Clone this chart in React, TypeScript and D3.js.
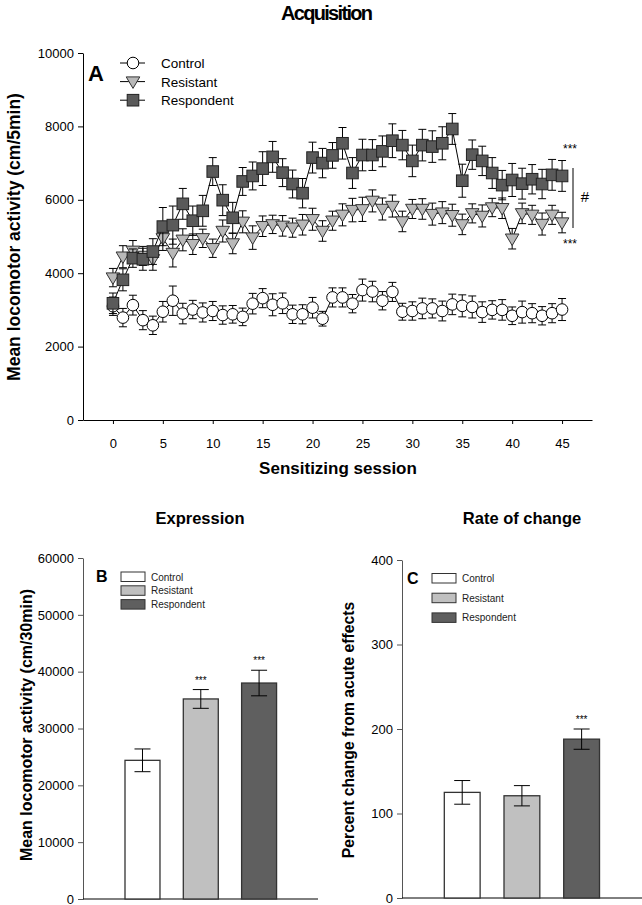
import React, { useRef, useEffect } from 'react';
import * as d3 from 'd3';

// Acquisition: sessions 0..45
const sessions = d3.range(0, 46);
const controlMean = [3100, 2790, 3130, 2720, 2580, 2950, 3250, 2900, 3010, 2930, 2970, 2860, 2880, 2810, 3170, 3320, 3140, 3180, 2880, 2880, 3060, 2760, 3340, 3340, 3170, 3540, 3500, 3250, 3490, 2950, 2970, 3040, 3040, 2970, 3150, 3110, 3080, 2940, 3000, 3000, 2840, 2940, 2910, 2840, 2910, 3010];
const controlErr = [250, 250, 270, 260, 250, 280, 400, 280, 250, 260, 260, 250, 240, 240, 280, 260, 300, 280, 250, 260, 280, 200, 260, 260, 250, 300, 280, 250, 260, 230, 250, 280, 260, 270, 280, 300, 300, 280, 250, 280, 240, 300, 260, 250, 260, 300];
const resistantMean = [3880, 4450, 4610, 4470, 4380, 4950, 4550, 4910, 4790, 4950, 4680, 5150, 4810, 5400, 4970, 5280, 5330, 5290, 5240, 5320, 5470, 5150, 5430, 5590, 5720, 5740, 5970, 5750, 5830, 5410, 5750, 5750, 5610, 5650, 5580, 5330, 5630, 5560, 5790, 5770, 4940, 5630, 5590, 5340, 5590, 5380];
const resistantErr = [250, 300, 280, 260, 300, 330, 380, 300, 280, 250, 250, 300, 280, 300, 320, 280, 250, 280, 260, 280, 300, 280, 260, 300, 320, 330, 300, 300, 300, 280, 260, 280, 300, 300, 300, 280, 260, 300, 250, 280, 280, 280, 260, 300, 260, 280];
const respondentMean = [3180, 3820, 4410, 4380, 4590, 5270, 5310, 5890, 5430, 5700, 6770, 5990, 5510, 6500, 6650, 6850, 7170, 6740, 6430, 6180, 7150, 7000, 7210, 7540, 6730, 7220, 7220, 7320, 7610, 7490, 7060, 7490, 7450, 7540, 7930, 6520, 7230, 7060, 6730, 6400, 6540, 6440, 6560, 6430, 6680, 6650];
const respondentErr = [280, 300, 250, 300, 350, 520, 520, 420, 400, 420, 380, 420, 420, 380, 380, 460, 420, 380, 380, 400, 420, 400, 350, 430, 420, 430, 420, 420, 460, 400, 430, 430, 430, 450, 420, 450, 400, 400, 420, 400, 450, 420, 400, 400, 420, 420];

// Expression and rate of change
const groups = ['Control', 'Resistant', 'Respondent'];
const groupFill = ['#ffffff', '#c0c0c0', '#5f5f5f'];
const expressionMean = [24400, 35200, 38000];
const expressionErr = [2000, 1650, 2250];
const expressionStars = ['', '***', '***'];
const rateMean = [125, 121, 188];
const rateErr = [14, 12, 12];
const rateStars = ['', '', '***'];

const FONT = 'Arial, "Liberation Sans", sans-serif';

const App = () => {
  const ref = useRef<SVGSVGElement>(null);

  useEffect(() => {
    const svg = d3.select(ref.current);
    svg.selectAll('*').remove();
    svg.attr('font-family', FONT);

    // ---------- Panel A ----------
    const x = d3.scaleLinear().domain([-3, 48]).range([83, 592]);
    const y = d3.scaleLinear().domain([0, 10000]).range([420, 53]);

    svg.append('text').attr('x', 327).attr('y', 20).attr('text-anchor', 'middle')
      .attr('font-size', 20).attr('font-weight', 'bold').attr('textLength', 92)
      .text('Acquisition');

    const yAxisA = svg.append('g').attr('transform', 'translate(83,0)')
      .call(d3.axisLeft(y).tickValues([0, 2000, 4000, 6000, 8000, 10000]).tickSize(5).tickSizeOuter(0).tickFormat(d3.format('d')));
    const xAxisA = svg.append('g').attr('transform', 'translate(0,420)')
      .call(d3.axisBottom(x).tickValues(d3.range(0, 46, 5)).tickSize(4).tickSizeOuter(0));
    [yAxisA, xAxisA].forEach((g) => {
      g.selectAll('text').attr('font-size', 13).attr('font-family', FONT).attr('fill', '#000');
      g.selectAll('line').attr('stroke', '#000');
      g.select('.domain').attr('stroke', '#000');
    });
    xAxisA.selectAll('text').attr('dy', '1.6em');
    yAxisA.selectAll('text').attr('x', -9);

    svg.append('text').attr('transform', 'translate(20,237) rotate(-90)').attr('text-anchor', 'middle')
      .attr('font-size', 17.5).attr('font-weight', 'bold').text('Mean locomotor activity (cm/5min)');
    svg.append('text').attr('x', 338).attr('y', 474).attr('text-anchor', 'middle')
      .attr('font-size', 17).attr('font-weight', 'bold').text('Sensitizing session');

    const series = [
      { name: 'Control', mean: controlMean, err: controlErr, shape: 'circle', fill: '#ffffff' },
      { name: 'Resistant', mean: resistantMean, err: resistantErr, shape: 'tri', fill: '#b8b8b8' },
      { name: 'Respondent', mean: respondentMean, err: respondentErr, shape: 'square', fill: '#5a5a5a' },
    ];

    const drawMarker = (g: any, shape: string, fill: string, cx: number, cy: number) => {
      if (shape === 'circle') {
        g.append('circle').attr('cx', cx).attr('cy', cy).attr('r', 5.8)
          .attr('fill', fill).attr('stroke', '#000').attr('stroke-width', 1);
      } else if (shape === 'tri') {
        g.append('path')
          .attr('d', `M${cx - 6.8},${cy - 4.7}L${cx + 6.8},${cy - 4.7}L${cx},${cy + 6.8}Z`)
          .attr('fill', fill).attr('stroke', '#333').attr('stroke-width', 1);
      } else {
        g.append('rect').attr('x', cx - 5.8).attr('y', cy - 5.8).attr('width', 11.6).attr('height', 11.6)
          .attr('fill', fill).attr('stroke', '#222').attr('stroke-width', 1);
      }
    };

    const line = d3.line<number>().x((_, i) => x(sessions[i])).y((d) => y(d));
    series.forEach((s) => {
      const g = svg.append('g');
      g.append('path').attr('d', line(s.mean)).attr('fill', 'none').attr('stroke', '#000').attr('stroke-width', 1);
      s.mean.forEach((m, i) => {
        const cx = x(sessions[i]);
        const top = y(m + s.err[i]);
        const bot = y(m - s.err[i]);
        g.append('line').attr('x1', cx).attr('x2', cx).attr('y1', top).attr('y2', bot).attr('stroke', '#000');
        g.append('line').attr('x1', cx - 4).attr('x2', cx + 4).attr('y1', top).attr('y2', top).attr('stroke', '#000');
        g.append('line').attr('x1', cx - 4).attr('x2', cx + 4).attr('y1', bot).attr('y2', bot).attr('stroke', '#000');
      });
      s.mean.forEach((m, i) => drawMarker(g, s.shape, s.fill, x(sessions[i]), y(m)));
    });

    svg.append('text').attr('x', 88).attr('y', 81).attr('font-size', 22).attr('font-weight', 'bold').text('A');
    series.forEach((s, i) => {
      const ly = 63 + i * 18.6;
      svg.append('line').attr('x1', 120).attr('x2', 145).attr('y1', ly).attr('y2', ly).attr('stroke', '#000');
      drawMarker(svg, s.shape, s.fill, 133, ly);
      svg.append('text').attr('x', 161).attr('y', ly + 5).attr('font-size', 13.5).text(s.name);
    });

    svg.append('text').attr('x', 570).attr('y', 153).attr('text-anchor', 'middle').attr('font-size', 12).text('***');
    svg.append('text').attr('x', 570).attr('y', 248).attr('text-anchor', 'middle').attr('font-size', 12).text('***');
    svg.append('line').attr('x1', 573).attr('x2', 573).attr('y1', 168).attr('y2', 228).attr('stroke', '#000');
    svg.append('text').attr('x', 585).attr('y', 202).attr('text-anchor', 'middle').attr('font-size', 15).text('#');

    // ---------- Bar panels ----------
    const barPanel = (opts: any) => {
      const { title, titleX, letter, yLabel, labelX, labelY, labelSize, axisX, axisEnd, y0, y1, max, ticks, mean, err, stars, band0, step, legendX, legendY, legendGap } = opts;
      const yb = d3.scaleLinear().domain([0, max]).range([y0, y1]);
      const xb = d3.scaleBand().domain(groups).range([band0, band0 + step * 2.6]).paddingInner(0.4).paddingOuter(0);

      svg.append('text').attr('x', titleX).attr('y', 524).attr('text-anchor', 'middle')
        .attr('font-size', 16.5).attr('font-weight', 'bold').text(title);

      const ga = svg.append('g').attr('transform', `translate(${axisX},0)`)
        .call(d3.axisLeft(yb).tickValues(ticks).tickSize(5).tickSizeOuter(0).tickFormat(d3.format('d')));
      ga.selectAll('text').attr('font-size', 13).attr('font-family', FONT).attr('fill', '#000').attr('x', -9);
      ga.selectAll('line').attr('stroke', '#555');
      ga.select('.domain').attr('stroke', '#555');
      svg.append('line').attr('x1', axisX).attr('x2', axisEnd).attr('y1', y0).attr('y2', y0).attr('stroke', '#000');

      svg.append('text').attr('transform', `translate(${labelX},${labelY}) rotate(-90)`).attr('text-anchor', 'middle')
        .attr('font-size', labelSize).attr('font-weight', 'bold').text(yLabel);

      groups.forEach((gname, i) => {
        const bx = xb(gname) as number;
        const bw = xb.bandwidth();
        svg.append('rect').attr('x', bx).attr('y', yb(mean[i])).attr('width', bw).attr('height', y0 - yb(mean[i]))
          .attr('fill', groupFill[i]).attr('stroke', '#333').attr('stroke-width', 1.3);
        const cx = bx + bw / 2;
        const top = yb(mean[i] + err[i]);
        const bot = yb(mean[i] - err[i]);
        svg.append('line').attr('x1', cx).attr('x2', cx).attr('y1', top).attr('y2', bot).attr('stroke', '#000');
        svg.append('line').attr('x1', cx - 8).attr('x2', cx + 8).attr('y1', top).attr('y2', top).attr('stroke', '#000');
        svg.append('line').attr('x1', cx - 8).attr('x2', cx + 8).attr('y1', bot).attr('y2', bot).attr('stroke', '#000');
        if (stars[i]) {
          svg.append('text').attr('x', cx).attr('y', top - 6).attr('text-anchor', 'middle').attr('font-size', 10).attr('fill', '#000').text(stars[i]);
        }
      });

      svg.append('text').attr('x', legendX - 25).attr('y', legendY + 10).attr('font-size', 16).attr('font-weight', 'bold').text(letter);
      groups.forEach((gname, i) => {
        const ly = legendY + i * legendGap;
        svg.append('rect').attr('x', legendX).attr('y', ly).attr('width', 24).attr('height', 9.5)
          .attr('fill', groupFill[i]).attr('stroke', '#333').attr('stroke-width', 1);
        svg.append('text').attr('x', legendX + 30).attr('y', ly + 8.5).attr('font-size', 10).attr('fill', '#222').text(gname);
      });
    };

    barPanel({
      title: 'Expression', titleX: 200, letter: 'B', yLabel: 'Mean locomotor activity (cm/30min)', labelX: 32, labelY: 725, labelSize: 16,
      axisX: 83, axisEnd: 318, y0: 899, y1: 558, max: 60000, ticks: [0, 10000, 20000, 30000, 40000, 50000, 60000],
      mean: expressionMean, err: expressionErr, stars: expressionStars, band0: 125, step: 58.3,
      legendX: 121, legendY: 572, legendGap: 13.8,
    });
    barPanel({
      title: 'Rate of change', titleX: 522, letter: 'C', yLabel: 'Percent change from acute effects', labelX: 354, labelY: 730, labelSize: 15.7,
      axisX: 402, axisEnd: 642, y0: 898, y1: 560, max: 400, ticks: [0, 100, 200, 300, 400],
      mean: rateMean, err: rateErr, stars: rateStars, band0: 444.3, step: 59.7,
      legendX: 432, legendY: 573.5, legendGap: 19.7,
    });
  }, []);

  return (
    <svg ref={ref} width={642} height={905}
      style={{ position: 'absolute', left: 0, top: 0, background: '#fff' }} />
  );
};

export default App;
